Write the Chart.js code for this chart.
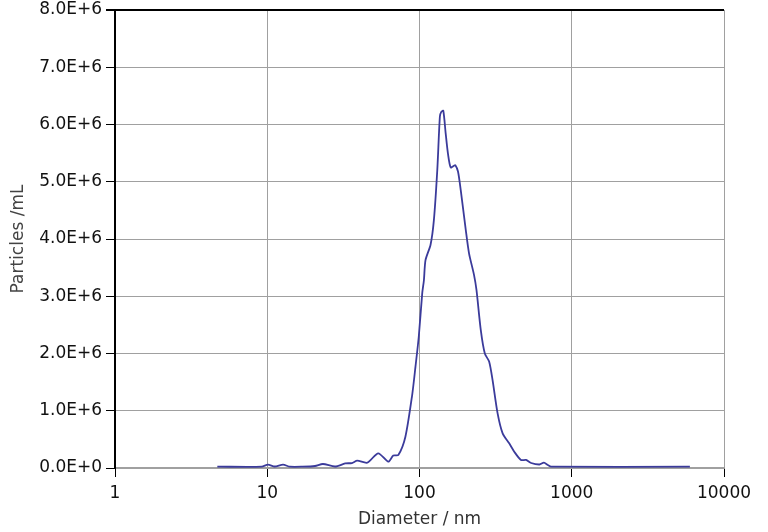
<!DOCTYPE html>
<html lang="en">
<head>
    <meta charset="UTF-8">
    <title>Particle size distribution</title>
    <script src="https://cdn.jsdelivr.net/npm/chart.js"></script>
    <style>
        body { margin: 0; background: #fff; }
    </style>
</head>
<body>
    <canvas id="myChart" width="768" height="532"></canvas>
<script>
    // diameter (nm) and concentration (particles / mL)
    const diameters = [4.7, 9.2, 10.1, 11.2, 12.7, 14.1, 17, 20.6, 23.2, 27.9, 32.5, 36, 39, 45.4,
        53.6, 62.4, 67.3, 72.6, 80.8, 89.5, 94.1, 98.9, 104.2, 106.9, 109.5, 118.2, 124.3, 130.9,
        136.1, 139, 143.3, 148.5, 153.8, 160.2, 168.4, 172, 179, 186.5, 201.3, 211.5, 228.2,
        236.7, 252.7, 268.6, 286.6, 301.8, 325.8, 351.6, 388.3, 419, 464, 501, 541, 614, 656,
        697, 732, 5970];
    const particles = [0.023, 0.023, 0.058, 0.026, 0.058, 0.023, 0.023, 0.035, 0.07, 0.026, 0.079,
        0.087, 0.128, 0.093, 0.257, 0.11, 0.218, 0.227, 0.547, 1.275, 1.77, 2.293, 3.05, 3.28,
        3.63, 3.9, 4.33, 5.21, 6.14, 6.22, 6.24, 5.85, 5.49, 5.25, 5.28, 5.29, 5.18, 4.86, 4.16,
        3.75, 3.37, 3.11, 2.41, 2.0, 1.86, 1.54, 0.955, 0.606, 0.431, 0.285, 0.14, 0.14, 0.087,
        0.061, 0.093, 0.052, 0.023, 0.023].map(v => v * 1e6);
    const xTicks = [1, 10, 100, 1000, 10000];
    const yTicks = [0, 1e6, 2e6, 3e6, 4e6, 5e6, 6e6, 7e6, 8e6];

    const font = { family: "DejaVu Sans", size: 17 };

    new Chart(document.getElementById("myChart"), {
        type: "line",
        data: {
            datasets: [{
                data: diameters.map((d, i) => ({ x: d, y: particles[i] })),
                borderColor: "#3b3b9b",
                borderWidth: 1.8,
                pointRadius: 0,
                tension: 0.25,
                fill: false,
            }],
        },
        options: {
            responsive: false,
            animation: false,
            layout: { padding: { left: 0, right: 44, top: 10, bottom: 0 } },
            plugins: { legend: { display: false }, tooltip: { enabled: false } },
            scales: {
                x: {
                    type: "logarithmic",
                    min: 1,
                    max: 10000,
                    afterBuildTicks: (scale) => {
                        scale.ticks = xTicks.map(v => ({ value: v }));
                    },
                    afterFit: (scale) => { scale.height = 64; },
                    ticks: {
                        font: font,
                        color: "#111",
                        padding: 6,
                        maxRotation: 0,
                        autoSkip: false,
                        callback: (v) => String(v),
                    },
                    grid: {
                        color: "#a0a0a0",
                        tickColor: "#000",
                        tickLength: 9,
                        lineWidth: 1,
                    },
                    border: { color: "#a0a0a0", width: 1.5 },
                    title: {
                        display: true,
                        text: "Diameter / nm",
                        font: font,
                        color: "#333",
                        padding: { top: 0, bottom: 2 },
                    },
                },
                y: {
                    min: 0,
                    max: 8e6,
                    afterBuildTicks: (scale) => {
                        scale.ticks = yTicks.map(v => ({ value: v }));
                    },
                    afterFit: (scale) => {
                        scale.width = 115;
                        scale.paddingTop = 0;
                        scale.paddingBottom = 0;
                    },
                    ticks: {
                        font: font,
                        color: "#111",
                        padding: 4,
                        callback: (v) => v === 0 ? "0.0E+0" : (v / 1e6).toFixed(1) + "E+6",
                    },
                    grid: {
                        color: (ctx) => ctx.tick && ctx.tick.value === 8e6 ? "#000" : "#a0a0a0",
                        lineWidth: (ctx) => ctx.tick && ctx.tick.value === 8e6 ? 2 : 1,
                        tickColor: "#000",
                        tickLength: 9,
                    },
                    border: { color: "#000", width: 2 },
                    title: {
                        display: true,
                        text: "Particles /mL",
                        font: font,
                        color: "#444",
                        padding: { top: 8, bottom: 0 },
                    },
                },
            },
        },
    });
</script>
</body>
</html>
